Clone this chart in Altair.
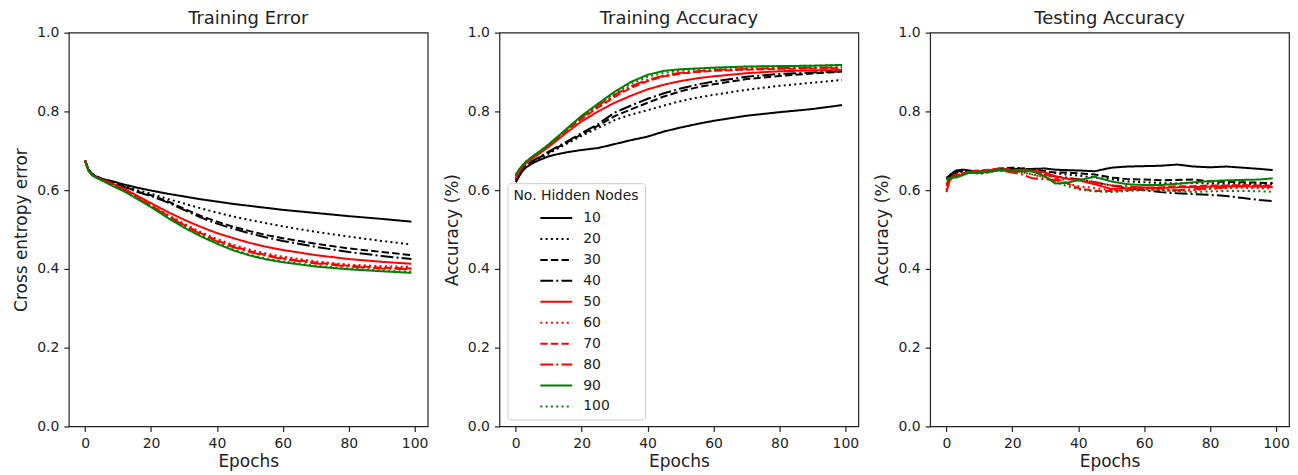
import altair as alt
import pandas as pd

NODES = ["10", "20", "30", "40", "50", "60", "70", "80", "90", "100"]
COLORS = ["#000000", "#000000", "#000000", "#000000",
          "#ff0000", "#ff0000", "#ff0000", "#ff0000",
          "#008000", "#008000"]
DASHES = [[1, 0], [2, 3.3], [7.4, 3.2], [12.8, 3.2, 2, 3.2],
          [1, 0], [2, 3.3], [7.4, 3.2], [12.8, 3.2, 2, 3.2],
          [1, 0], [2, 3.3]]

# ---------------- Training error ----------------
EP_ERR = [0, 1, 2, 3, 5, 8, 12, 16, 20, 25, 30, 35, 40, 45, 50, 55, 60, 70, 80, 90, 99]
ERR = {
    "10":  [0.675, 0.652, 0.642, 0.636, 0.629, 0.623, 0.614, 0.606, 0.599, 0.591, 0.584, 0.577, 0.571, 0.565, 0.560, 0.555, 0.550, 0.542, 0.534, 0.527, 0.520],
    "20":  [0.675, 0.652, 0.642, 0.636, 0.629, 0.621, 0.611, 0.600, 0.591, 0.578, 0.566, 0.554, 0.543, 0.533, 0.524, 0.516, 0.508, 0.494, 0.482, 0.471, 0.462],
    "30":  [0.675, 0.652, 0.642, 0.636, 0.629, 0.620, 0.609, 0.596, 0.587, 0.572, 0.553, 0.535, 0.520, 0.507, 0.496, 0.486, 0.478, 0.464, 0.452, 0.443, 0.435],
    "40":  [0.675, 0.652, 0.642, 0.636, 0.629, 0.620, 0.608, 0.595, 0.585, 0.569, 0.550, 0.531, 0.515, 0.502, 0.490, 0.480, 0.471, 0.456, 0.443, 0.433, 0.425],
    "50":  [0.675, 0.650, 0.640, 0.634, 0.627, 0.618, 0.603, 0.585, 0.567, 0.545, 0.525, 0.507, 0.491, 0.478, 0.466, 0.456, 0.448, 0.435, 0.425, 0.418, 0.413],
    "60":  [0.675, 0.650, 0.640, 0.634, 0.626, 0.616, 0.600, 0.581, 0.562, 0.538, 0.515, 0.494, 0.476, 0.461, 0.449, 0.439, 0.431, 0.419, 0.411, 0.407, 0.405],
    "70":  [0.675, 0.650, 0.640, 0.634, 0.626, 0.615, 0.599, 0.580, 0.561, 0.536, 0.512, 0.491, 0.472, 0.457, 0.445, 0.435, 0.427, 0.416, 0.408, 0.403, 0.401],
    "80":  [0.675, 0.650, 0.640, 0.634, 0.626, 0.615, 0.599, 0.579, 0.560, 0.535, 0.510, 0.489, 0.470, 0.455, 0.443, 0.433, 0.425, 0.414, 0.406, 0.401, 0.399],
    "90":  [0.675, 0.650, 0.639, 0.633, 0.625, 0.612, 0.596, 0.577, 0.557, 0.530, 0.505, 0.483, 0.464, 0.447, 0.434, 0.424, 0.417, 0.406, 0.399, 0.394, 0.390],
    "100": [0.675, 0.650, 0.639, 0.633, 0.625, 0.613, 0.597, 0.578, 0.558, 0.532, 0.507, 0.485, 0.466, 0.449, 0.436, 0.426, 0.419, 0.408, 0.401, 0.396, 0.393],
}

# ---------------- Training accuracy ----------------
EP_TRA = [0, 1, 2, 3, 5, 7, 10, 13, 16, 20, 25, 30, 35, 40, 45, 50, 55, 60, 70, 80, 90, 99]
TRA = {
    "10":  [0.620, 0.635, 0.648, 0.657, 0.668, 0.676, 0.686, 0.692, 0.697, 0.702, 0.707, 0.717, 0.727, 0.736, 0.749, 0.759, 0.768, 0.776, 0.789, 0.798, 0.806, 0.816],
    "20":  [0.625, 0.640, 0.652, 0.660, 0.672, 0.680, 0.693, 0.707, 0.720, 0.738, 0.758, 0.778, 0.792, 0.803, 0.815, 0.826, 0.835, 0.842, 0.855, 0.865, 0.873, 0.880],
    "30":  [0.625, 0.642, 0.654, 0.662, 0.673, 0.682, 0.696, 0.710, 0.723, 0.742, 0.764, 0.788, 0.805, 0.822, 0.838, 0.851, 0.861, 0.869, 0.882, 0.890, 0.896, 0.901],
    "40":  [0.625, 0.642, 0.654, 0.662, 0.674, 0.683, 0.698, 0.712, 0.726, 0.745, 0.768, 0.797, 0.815, 0.832, 0.846, 0.858, 0.868, 0.876, 0.888, 0.895, 0.899, 0.902],
    "50":  [0.630, 0.645, 0.658, 0.667, 0.680, 0.692, 0.710, 0.730, 0.750, 0.775, 0.800, 0.822, 0.840, 0.856, 0.868, 0.877, 0.884, 0.889, 0.897, 0.902, 0.904, 0.905],
    "60":  [0.635, 0.649, 0.661, 0.670, 0.683, 0.695, 0.715, 0.735, 0.757, 0.783, 0.812, 0.840, 0.862, 0.879, 0.890, 0.897, 0.901, 0.904, 0.907, 0.909, 0.910, 0.911],
    "70":  [0.635, 0.649, 0.661, 0.670, 0.683, 0.695, 0.714, 0.734, 0.756, 0.781, 0.810, 0.837, 0.860, 0.877, 0.889, 0.896, 0.900, 0.903, 0.906, 0.908, 0.909, 0.910],
    "80":  [0.635, 0.650, 0.662, 0.671, 0.684, 0.696, 0.716, 0.737, 0.759, 0.785, 0.815, 0.842, 0.864, 0.880, 0.891, 0.898, 0.902, 0.905, 0.908, 0.910, 0.911, 0.912],
    "90":  [0.640, 0.652, 0.663, 0.672, 0.685, 0.697, 0.716, 0.738, 0.760, 0.789, 0.820, 0.850, 0.875, 0.893, 0.903, 0.907, 0.909, 0.911, 0.914, 0.915, 0.916, 0.918],
    "100": [0.640, 0.652, 0.663, 0.672, 0.685, 0.697, 0.716, 0.737, 0.759, 0.787, 0.817, 0.846, 0.870, 0.888, 0.898, 0.904, 0.907, 0.910, 0.913, 0.915, 0.916, 0.917],
}

# ---------------- Testing accuracy ----------------
EP_TST = [0, 1, 2, 3, 5, 7, 10, 13, 16, 20, 23, 26, 30, 33, 36, 40, 45, 50, 55, 60, 65, 70, 75, 80, 85, 90, 95, 99]
TST = {
    "10":  [0.630, 0.635, 0.645, 0.650, 0.652, 0.650, 0.645, 0.648, 0.652, 0.652, 0.653, 0.654, 0.655, 0.652, 0.651, 0.650, 0.648, 0.657, 0.660, 0.661, 0.662, 0.665, 0.660, 0.658, 0.660, 0.657, 0.654, 0.651],
    "20":  [0.630, 0.640, 0.642, 0.645, 0.648, 0.645, 0.642, 0.645, 0.652, 0.655, 0.656, 0.652, 0.648, 0.643, 0.640, 0.637, 0.632, 0.628, 0.622, 0.620, 0.618, 0.617, 0.618, 0.617, 0.616, 0.616, 0.615, 0.615],
    "30":  [0.630, 0.638, 0.643, 0.646, 0.650, 0.647, 0.644, 0.648, 0.655, 0.657, 0.655, 0.652, 0.648, 0.645, 0.645, 0.643, 0.640, 0.632, 0.628, 0.627, 0.625, 0.626, 0.627, 0.622, 0.621, 0.620, 0.619, 0.618],
    "40":  [0.630, 0.636, 0.640, 0.644, 0.648, 0.646, 0.643, 0.647, 0.653, 0.655, 0.652, 0.648, 0.640, 0.635, 0.632, 0.628, 0.620, 0.612, 0.605, 0.600, 0.595, 0.592, 0.590, 0.588, 0.585, 0.580, 0.575, 0.572],
    "50":  [0.595, 0.625, 0.632, 0.635, 0.640, 0.645, 0.648, 0.650, 0.652, 0.650, 0.652, 0.650, 0.645, 0.635, 0.630, 0.625, 0.615, 0.603, 0.605, 0.607, 0.606, 0.607, 0.608, 0.609, 0.610, 0.610, 0.609, 0.608],
    "60":  [0.600, 0.628, 0.634, 0.637, 0.642, 0.646, 0.647, 0.651, 0.653, 0.648, 0.645, 0.640, 0.632, 0.625, 0.618, 0.610, 0.605, 0.600, 0.600, 0.602, 0.600, 0.598, 0.600, 0.603, 0.605, 0.606, 0.605, 0.604],
    "70":  [0.610, 0.630, 0.636, 0.640, 0.643, 0.648, 0.650, 0.652, 0.655, 0.653, 0.650, 0.648, 0.640, 0.630, 0.620, 0.605, 0.598, 0.598, 0.600, 0.605, 0.607, 0.610, 0.610, 0.612, 0.612, 0.613, 0.612, 0.612],
    "80":  [0.615, 0.630, 0.635, 0.638, 0.641, 0.644, 0.646, 0.648, 0.650, 0.645, 0.640, 0.630, 0.628, 0.625, 0.628, 0.627, 0.620, 0.612, 0.610, 0.606, 0.604, 0.600, 0.602, 0.605, 0.607, 0.610, 0.610, 0.610],
    "90":  [0.630, 0.630, 0.632, 0.632, 0.638, 0.645, 0.643, 0.647, 0.650, 0.648, 0.648, 0.648, 0.635, 0.617, 0.618, 0.625, 0.634, 0.622, 0.615, 0.613, 0.613, 0.616, 0.620, 0.623, 0.625, 0.626, 0.627, 0.630],
    "100": [0.625, 0.628, 0.633, 0.636, 0.640, 0.646, 0.648, 0.650, 0.654, 0.650, 0.645, 0.640, 0.633, 0.620, 0.612, 0.602, 0.597, 0.595, 0.598, 0.600, 0.600, 0.597, 0.595, 0.597, 0.598, 0.598, 0.597, 0.596],
}

TITLES = ["Training Error", "Training Accuracy", "Testing Accuracy"]
YTITLES = ["Cross entropy error", "Accuracy (%)", "Accuracy (%)"]
X_TICKS = [0, 20, 40, 60, 80, 100]
Y_TICKS = [0.0, 0.2, 0.4, 0.6, 0.8, 1.0]


def long_df(epochs, series):
    rows = []
    for i, n in enumerate(NODES):
        for e, v in zip(epochs, series[n]):
            rows.append({"epoch": e, "value": v, "nodes": n, "order": i})
    return pd.DataFrame(rows)


def panel(df, title, ytitle, show_legend):
    if show_legend:
        leg = alt.Legend(
            title="No. Hidden Nodes", orient="none", legendX=8, legendY=151,
            symbolType="M-2,0H2", symbolSize=256, symbolStrokeWidth=2,
            symbolOffset=34,
            labelFontSize=14, titleFontSize=14, titleFontWeight="normal",
            labelColor="#222", titleColor="#222",
            strokeColor="#cccccc", fillColor="white", cornerRadius=3,
            padding=6, rowPadding=5, labelOffset=18, titlePadding=6,
            titleFont="DejaVu Sans", labelFont="DejaVu Sans",
        )
    else:
        leg = None
    return (
        alt.Chart(df)
        .mark_line(strokeWidth=2, clip=True)
        .encode(
            x=alt.X("epoch:Q", scale=alt.Scale(domain=[-4.95, 103.95], nice=False, zero=False),
                    axis=alt.Axis(title="Epochs", values=X_TICKS, format="d")),
            y=alt.Y("value:Q", scale=alt.Scale(domain=[0, 1], nice=False),
                    axis=alt.Axis(title=ytitle, values=Y_TICKS, format=".1f")),
            color=alt.Color("nodes:N", sort=NODES,
                            scale=alt.Scale(domain=NODES, range=COLORS), legend=leg),
            strokeDash=alt.StrokeDash("nodes:N", sort=NODES,
                                      scale=alt.Scale(domain=NODES, range=DASHES), legend=leg),
            order=alt.Order("order:Q"),
        )
        .properties(width=360, height=395,
                    title=alt.TitleParams(title, fontSize=18, fontWeight="normal",
                                          font="DejaVu Sans", color="#222", offset=-2))
    )


p1 = panel(long_df(EP_ERR, ERR), TITLES[0], YTITLES[0], False)
p2 = panel(long_df(EP_TRA, TRA), TITLES[1], YTITLES[1], True)
p3 = panel(long_df(EP_TST, TST), TITLES[2], YTITLES[2], False)

chart = (
    alt.hconcat(p1, p2, p3, spacing=14)
    .resolve_scale(color="independent", strokeDash="independent")
    .configure(padding={"left": 4, "top": 0, "right": 0, "bottom": 0})
    .configure_view(stroke="#222", strokeWidth=1.2)
    .configure_axis(
        grid=False, domain=False, tickColor="#222", tickSize=5, tickWidth=1.2,
        labelFont="DejaVu Sans", labelFontSize=14, labelColor="#222", labelPadding=5,
        titleFont="DejaVu Sans", titleFontSize=17, titleFontWeight="normal",
        titleColor="#222",
    )
    .configure_axisY(titlePadding=6)
    .configure_axisX(titlePadding=3, labelFlush=False)
)

chart.save("out.html", embed_options={"renderer": "svg", "actions": False})
